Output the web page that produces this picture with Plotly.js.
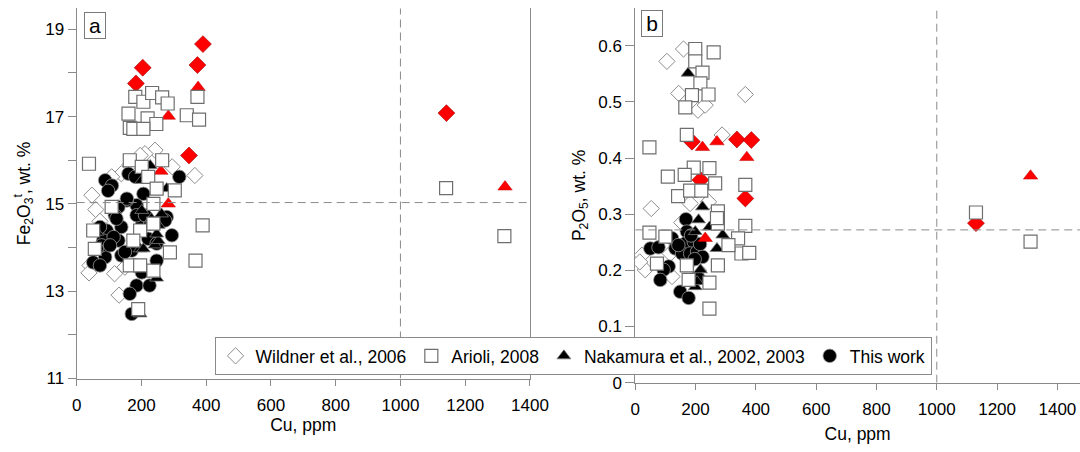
<!DOCTYPE html>
<html>
<head>
<meta charset="utf-8">
<script src="https://cdn.plot.ly/plotly-3.0.1.min.js"></script>
<style>
  html, body { margin: 0; padding: 0; background: #ffffff; }
  #chart { width: 1080px; height: 452px; }
</style>
</head>
<body>
<div id="chart"></div>
<script>
// ---------------- DATA ----------------
// Panel a: Cu (ppm) vs Fe2O3t (wt. %)
const wildnerA_cu = [47, 59, 41, 38, 131, 365, 295, 242, 211, 196, 138, 108, 149, 89, 117, 72, 165];
const wildnerA_fe = [15.20, 14.87, 13.59, 13.42, 12.91, 15.65, 15.85, 16.23, 16.15, 16.11, 15.69, 15.62, 13.55, 14.30, 13.40, 14.60, 15.90];

const arioliA_cu = [181, 206, 233, 264, 281, 160, 219, 246, 164, 175, 206, 340, 378, 373,
                    38, 164, 201, 264, 221, 247, 303, 237, 108, 51, 56, 196, 175, 288, 164, 196, 237, 190, 237, 389, 367, 1141, 1321];
const arioliA_fe = [17.45, 17.34, 17.54, 17.44, 17.30, 17.07, 16.96, 16.83, 16.74, 16.72, 16.72, 17.03, 16.93, 17.45,
                    15.92, 16.00, 15.85, 16.00, 15.62, 15.35, 15.31, 15.00, 14.93, 14.39, 13.97, 14.39, 14.16, 13.89, 13.59, 13.59, 13.47, 12.59, 14.55, 14.51, 13.70, 15.36, 14.26];

const nakamuraA_cu = [252, 196, 242, 196, 201, 227, 231, 247, 206, 252, 278, 201, 247, 262, 62];
const nakamuraA_fe = [14.51, 13.97, 14.06, 12.48, 15.54, 15.88, 14.66, 13.30, 13.97, 14.16, 15.35, 14.85, 14.31, 14.77, 14.35];

const thisWorkA_cu = [88, 109, 160, 181, 317, 206, 185, 155, 129, 118, 138, 93, 82, 88, 138, 170, 221, 201, 227, 278,
                      294, 247, 201, 185, 225, 164, 170, 77, 129, 114, 103, 185, 211, 72, 62, 51, 247, 273, 72, 149, 123, 155, 97];
const thisWorkA_fe = [15.54, 15.42, 15.69, 15.62, 15.62, 15.23, 14.97, 15.08, 14.93, 14.74, 14.47, 14.39, 14.16, 13.78, 13.82, 13.93, 14.20, 14.51, 14.55, 14.70,
                      14.28, 13.70, 13.43, 13.13, 13.13, 12.94, 12.48, 14.05, 14.16, 14.24, 14.05, 14.74, 14.74, 14.47, 13.97, 13.66, 14.09, 14.62, 13.59, 13.90, 14.66, 15.12, 15.30];

const redDiamondA_cu = [390, 373, 204, 183, 347, 1142];
const redDiamondA_fe = [18.66, 18.18, 18.12, 17.76, 16.11, 17.08];
const redTriangleA_cu = [375, 283, 260, 283, 1323];
const redTriangleA_fe = [17.67, 17.01, 15.75, 15.00, 15.39];

// Panel b: Cu (ppm) vs P2O5 (wt. %)
const wildnerB_cu = [160, 105, 144, 365, 208, 232, 288, 53, 22, 33, 122, 182, 243, 210, 116, 15, 154];
const wildnerB_p  = [0.594, 0.572, 0.515, 0.513, 0.485, 0.494, 0.441, 0.310, 0.227, 0.201, 0.189, 0.319, 0.322, 0.200, 0.230, 0.215, 0.285];

const arioliB_cu = [199, 260, 199, 223, 216, 188, 243, 166, 171, 47, 194, 246, 108, 164,
                    142, 182, 219, 265, 365, 274, 274, 365, 47, 341, 352, 378, 274, 171, 246, 246, 100, 72, 177, 309, 271, 1130, 1311];
const arioliB_p  = [0.594, 0.588, 0.572, 0.552, 0.533, 0.512, 0.513, 0.490, 0.441, 0.419, 0.383, 0.382, 0.367, 0.370,
                    0.332, 0.342, 0.342, 0.355, 0.352, 0.305, 0.283, 0.279, 0.267, 0.257, 0.230, 0.231, 0.209, 0.209, 0.178, 0.132, 0.260, 0.212, 0.183, 0.245, 0.293, 0.303, 0.251];

const nakamuraB_cu = [175, 223, 210, 246, 290, 271, 199, 216, 199, 205];
const nakamuraB_p  = [0.551, 0.313, 0.290, 0.277, 0.263, 0.239, 0.269, 0.201, 0.171, 0.180];

const thisWorkB_cu = [168, 171, 122, 50, 77, 133, 166, 194, 155, 182, 205, 223, 197, 111, 94, 83, 210, 149, 177, 143, 215, 185];
const thisWorkB_p  = [0.291, 0.269, 0.257, 0.239, 0.241, 0.239, 0.248, 0.251, 0.230, 0.230, 0.233, 0.224, 0.220, 0.207, 0.201, 0.183, 0.186, 0.162, 0.151, 0.245, 0.247, 0.262];

const redDiamondB_cu = [188, 337, 385, 216, 365, 1130];
const redDiamondB_p  = [0.429, 0.433, 0.432, 0.361, 0.328, 0.284];
const redTriangleB_cu = [223, 271, 370, 232, 1311];
const redTriangleB_p  = [0.419, 0.429, 0.401, 0.257, 0.368];

// Reference lines
const feLine = 15.03;
const pLine = 0.272;
const cuLine = 1000;

// Tick labels
const feTickVals = [11, 13, 15, 17, 19];
const feMinorStep = 1;
const cuTickVals = [0, 200, 400, 600, 800, 1000, 1200, 1400];
const pTickVals = [0, 0.1, 0.2, 0.3, 0.4, 0.5, 0.6];

const legendNames = ['Wildner et al., 2006', 'Arioli, 2008', 'Nakamura et al., 2002, 2003', 'This work'];

// ---------------- STYLES ----------------
const FONT = 'Liberation Sans, Arial, Helvetica, sans-serif';
const AX = '#8a8a8a';
const styles = {
  wildner:  {symbol: 'diamond', size: 12.5, color: '#ffffff', line: {color: '#8c8c8c', width: 1}},
  arioli:   {symbol: 'square', size: 13, color: '#ffffff', line: {color: '#6e6e6e', width: 1.2}},
  nakamura: {symbol: 'triangle-up', size: 12, color: '#000000', line: {color: '#7a7a7a', width: 0.8}},
  thiswork: {symbol: 'circle', size: 13.5, color: '#000000', line: {color: '#9a9a9a', width: 0.8}},
  redD:     {symbol: 'diamond', size: 13, color: '#ff0000', line: {color: '#a00000', width: 0.6}},
  redT:     {symbol: 'triangle-up', size: 12.5, color: '#ff0000', line: {color: '#c00000', width: 0.5}}
};

function tr(x, y, st, xa, ya, name, group, showleg) {
  return {
    type: 'scatter', mode: 'markers', x: x, y: y,
    xaxis: xa, yaxis: ya, name: name, legendgroup: group,
    showlegend: showleg, marker: st, hoverinfo: 'x+y'
  };
}

const data = [
  tr(wildnerA_cu, wildnerA_fe, styles.wildner, 'x', 'y', legendNames[0], 'w', true),
  tr(thisWorkA_cu, thisWorkA_fe, styles.thiswork, 'x', 'y', legendNames[3], 't', false),
  tr(nakamuraA_cu, nakamuraA_fe, styles.nakamura, 'x', 'y', legendNames[2], 'n', false),
  tr(redDiamondA_cu, redDiamondA_fe, styles.redD, 'x', 'y', 'red diamonds', 'rd', false),
  tr(redTriangleA_cu, redTriangleA_fe, styles.redT, 'x', 'y', 'red triangles', 'rt', false),
  tr(arioliA_cu, arioliA_fe, styles.arioli, 'x', 'y', legendNames[1], 'a', true),

  tr(wildnerB_cu, wildnerB_p, styles.wildner, 'x2', 'y2', legendNames[0], 'w', false),
  tr(thisWorkB_cu, thisWorkB_p, styles.thiswork, 'x2', 'y2', legendNames[3], 't', false),
  tr(nakamuraB_cu, nakamuraB_p, styles.nakamura, 'x2', 'y2', legendNames[2], 'n', false),
  tr(redDiamondB_cu, redDiamondB_p, styles.redD, 'x2', 'y2', 'red diamonds', 'rd', false),
  tr(redTriangleB_cu, redTriangleB_p, styles.redT, 'x2', 'y2', 'red triangles', 'rt', false),
  tr(arioliB_cu, arioliB_p, styles.arioli, 'x2', 'y2', legendNames[1], 'a', false),

  // legend-only entries for the filled series (so the legend order matches)
  tr([null], [null], styles.nakamura, 'x', 'y', legendNames[2], 'n', true),
  tr([null], [null], styles.thiswork, 'x', 'y', legendNames[3], 't', true)
];
data[0].legendrank = 1; data[5].legendrank = 2; data[12].legendrank = 3; data[13].legendrank = 4;

const tickFont = {family: FONT, size: 17, color: '#000000'};
const titleFont = {family: FONT, size: 17.5, color: '#000000'};

function xAxis(domain, range, anchor, standoff) {
  return {
    domain: domain, range: range, anchor: anchor,
    tickmode: 'array', tickvals: cuTickVals,
    ticks: 'outside', ticklen: 6, tickwidth: 1, tickcolor: AX,
    showline: true, linecolor: AX, linewidth: 1,
    showgrid: false, zeroline: false,
    tickfont: tickFont, ticklabelstandoff: 5,
    title: {text: 'Cu, ppm', font: titleFont, standoff: standoff}
  };
}

const layout = {
  width: 1080, height: 452,
  margin: {l: 0, r: 0, t: 0, b: 0, pad: 0},
  paper_bgcolor: '#ffffff', plot_bgcolor: 'rgba(0,0,0,0)',
  font: {family: FONT, size: 17, color: '#000000'},
  showlegend: true,
  legend: {
    orientation: 'h', x: 0.5306, xanchor: 'center', y: 0.2545, yanchor: 'top',
    bgcolor: '#ffffff', bordercolor: '#8a8a8a', borderwidth: 1,
    font: {family: FONT, size: 17.5, color: '#000000'},
    itemwidth: 30, traceorder: 'normal', itemclick: false
  },
  xaxis: xAxis([0.0710, 0.4907], [0, 1400], 'y', 4),
  yaxis: {
    domain: [0.1626, 0.9816], range: [11, 19.48], anchor: 'x',
    tickmode: 'array', tickvals: feTickVals,
    ticks: 'outside', ticklen: 8, tickwidth: 1, tickcolor: AX,
    minor: {dtick: feMinorStep, tick0: 11, ticks: 'outside', ticklen: 8, tickwidth: 1, tickcolor: AX, showgrid: false},
    showline: true, mirror: true, linecolor: AX, linewidth: 1,
    showgrid: false, zeroline: false, tickfont: tickFont,
    title: {text: 'Fe<sub>2</sub>O<sub>3</sub><sup>t</sup>, wt. %', font: titleFont, standoff: 10}
  },
  xaxis2: xAxis([0.5882, 1.0], [0, 1475], 'y2', 9),
  yaxis2: {
    domain: [0.1533, 0.9823], range: [0, 0.667], anchor: 'x2',
    tickmode: 'array', tickvals: pTickVals,
    ticks: 'outside', ticklen: 9, tickwidth: 1, tickcolor: AX,
    showline: true, linecolor: AX, linewidth: 1,
    showgrid: false, zeroline: false, tickfont: tickFont,
    title: {text: 'P<sub>2</sub>O<sub>5</sub>, wt. %', font: titleFont, standoff: 8}
  },
  shapes: [
    {type: 'line', xref: 'x', yref: 'y', x0: 0, x1: 1400, y0: feLine, y1: feLine, line: {color: '#8a8a8a', width: 1, dash: '8px,5px'}},
    {type: 'line', xref: 'x', yref: 'y', x0: cuLine, x1: cuLine, y0: 11, y1: 19.48, line: {color: '#8a8a8a', width: 1, dash: '8px,5px'}},
    {type: 'line', xref: 'x2', yref: 'y2', x0: 0, x1: 1475, y0: pLine, y1: pLine, line: {color: '#8a8a8a', width: 1, dash: '8px,5px'}},
    {type: 'line', xref: 'x2', yref: 'y2', x0: cuLine, x1: cuLine, y0: 0, y1: 0.667, line: {color: '#8a8a8a', width: 1, dash: '8px,5px'}}
  ],
  annotations: [
    {text: 'a', xref: 'paper', yref: 'paper', x: 94.5 / 1080, y: 1 - 25 / 452, xanchor: 'center', yanchor: 'middle',
     showarrow: false, font: {family: FONT, size: 21, color: '#000000'},
     bordercolor: '#7a7a7a', borderwidth: 1, borderpad: 1, bgcolor: '#ffffff', width: 18, height: 23},
    {text: 'b', xref: 'paper', yref: 'paper', x: 652 / 1080, y: 1 - 24 / 452, xanchor: 'center', yanchor: 'middle',
     showarrow: false, font: {family: FONT, size: 21, color: '#000000'},
     bordercolor: '#7a7a7a', borderwidth: 1, borderpad: 1, bgcolor: '#ffffff', width: 18, height: 23}
  ]
};

Plotly.newPlot('chart', data, layout, {staticPlot: true, displayModeBar: false});
</script>
</body>
</html>
